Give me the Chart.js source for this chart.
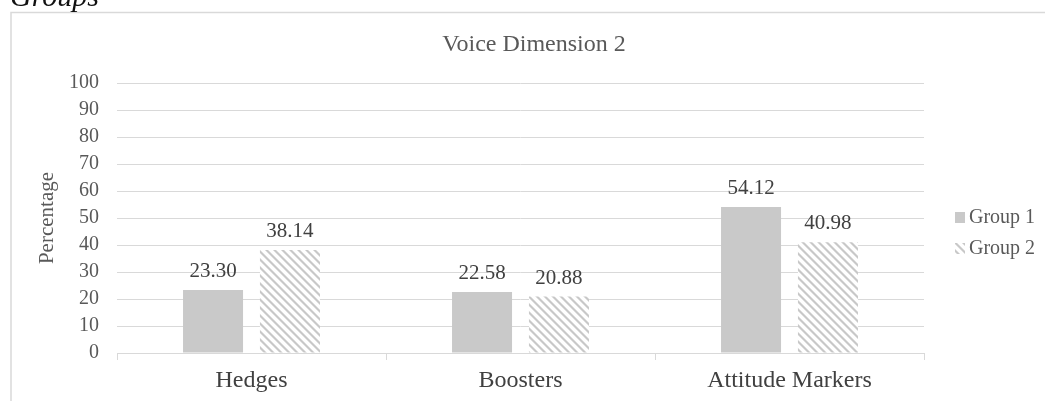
<!DOCTYPE html>
<html><head><meta charset="utf-8">
<script src="https://cdn.jsdelivr.net/npm/chart.js@4.4.1/dist/chart.umd.min.js"></script>
<style>html,body{margin:0;padding:0;background:#fff;overflow:hidden}canvas{display:block}</style>
</head><body>
<canvas id="c" width="1045" height="401"></canvas>
<script>
const categories = ['Hedges', 'Boosters', 'Attitude Markers'];
const seriesNames = ['Group 1', 'Group 2'];
const group1Values = [23.30, 22.58, 54.12];
const group2Values = [38.14, 20.88, 40.98];
const yTickValues = [0, 10, 20, 30, 40, 50, 60, 70, 80, 90, 100];
const chartTitle = 'Voice Dimension 2';
const yAxisTitle = 'Percentage';
const headerText = 'Groups';

const FONT = '"Liberation Serif", "Times New Roman", serif';
const TEXT = '#595959';
const GRID = '#d9d9d9';
const SOLID = '#c9c9c9';

const canvas = document.getElementById('c');
const ctx = canvas.getContext('2d');

function makeHatch() {
  const c = document.createElement('canvas');
  c.width = 8; c.height = 8;
  const x = c.getContext('2d');
  const img = x.createImageData(8, 8);
  for (let j = 0; j < 8; j++) for (let i = 0; i < 8; i++) {
    const d = ((i - j) % 8 + 8) % 8;
    let v = 255;
    if (d < 2) v = 200; else if (d === 2 || d === 7) v = 226;
    const k = (j * 8 + i) * 4;
    img.data[k] = v; img.data[k + 1] = v; img.data[k + 2] = v; img.data[k + 3] = 255;
  }
  x.putImageData(img, 0, 0);
  return ctx.createPattern(c, 'repeat');
}
const hatch = makeHatch();

const decorPlugin = {
  id: 'decor',
  afterLayout(chart) {
    const t = chart.titleBlock;
    if (t) { t.left = 23; t.right = 1045; t.width = 1022; t.top += 2; t.bottom += 2; }
  },
  beforeDraw(chart) {
    const c = chart.ctx;
    c.save();
    c.fillStyle = '#fff';
    c.fillRect(0, 0, chart.width, chart.height);
    c.strokeStyle = GRID;
    c.lineWidth = 1.5;
    c.strokeRect(11, 12.5, 1060, 420);
    c.fillStyle = '#111';
    c.font = 'italic 30px ' + FONT;
    c.textBaseline = 'alphabetic';
    c.textAlign = 'left';
    c.fillText(headerText, 10, 6);
    c.restore();
  },
  afterDatasetsDraw(chart) {
    const c = chart.ctx;
    c.save();
    c.font = '21px ' + FONT;
    c.fillStyle = '#404040';
    c.textAlign = 'center';
    c.textBaseline = 'alphabetic';
    chart.data.datasets.forEach((ds, di) => {
      const meta = chart.getDatasetMeta(di);
      meta.data.forEach((bar, i) => {
        c.fillText(ds.data[i].toFixed(2), bar.x, bar.y - 13);
      });
    });
    c.restore();
  },
  afterDraw(chart) {
    const c = chart.ctx;
    c.save();
    c.font = '20px ' + FONT;
    c.textAlign = 'left';
    c.textBaseline = 'middle';
    chart.data.datasets.forEach((ds, di) => {
      const y = 217.5 + di * 31;
      c.fillStyle = ds.backgroundColor;
      c.fillRect(955, y - 5.5, 10, 11);
      c.fillStyle = TEXT;
      c.fillText(ds.label, 969, y);
    });
    c.restore();
  }
};

new Chart(canvas, {
  type: 'bar',
  data: {
    labels: categories,
    datasets: [
      { label: seriesNames[0], data: group1Values, backgroundColor: SOLID, borderWidth: 0 },
      { label: seriesNames[1], data: group2Values, backgroundColor: hatch, borderWidth: 0 }
    ]
  },
  options: {
    responsive: false,
    devicePixelRatio: 1,
    animation: false,
    categoryPercentage: 0.572,
    barPercentage: 0.78,
    layout: { padding: { left: 0, right: 121, top: 0, bottom: 0 } },
    plugins: {
      legend: { display: false },
      tooltip: { enabled: false },
      title: {
        display: true,
        text: chartTitle,
        color: TEXT,
        font: { family: FONT, size: 24, weight: 'normal', lineHeight: 1.2 },
        padding: { top: 28.6, bottom: 25.6 }
      }
    },
    scales: {
      x: {
        grid: { display: true, drawOnChartArea: false, drawTicks: true, tickLength: 7, color: GRID, offset: true },
        border: { display: true, color: GRID, width: 1 },
        ticks: { color: '#404040', font: { family: FONT, size: 24 }, padding: 6.6, maxRotation: 0, autoSkip: false },
        afterFit(s) { s.height = 48; }
      },
      y: {
        min: 0, max: 100,
        afterBuildTicks(s) { s.ticks = yTickValues.map(v => ({ value: v })); },
        grid: { color: GRID, drawTicks: false, lineWidth: 1 },
        border: { display: false },
        ticks: { color: TEXT, font: { family: FONT, size: 20 }, padding: 18 },
        title: {
          display: true, text: yAxisTitle, color: TEXT,
          font: { family: FONT, size: 21, lineHeight: 1.2 },
          padding: { top: 34.4, bottom: 0 }
        },
        afterFit(s) { s.width = 117; }
      }
    }
  },
  plugins: [decorPlugin]
});
</script>
</body></html>
